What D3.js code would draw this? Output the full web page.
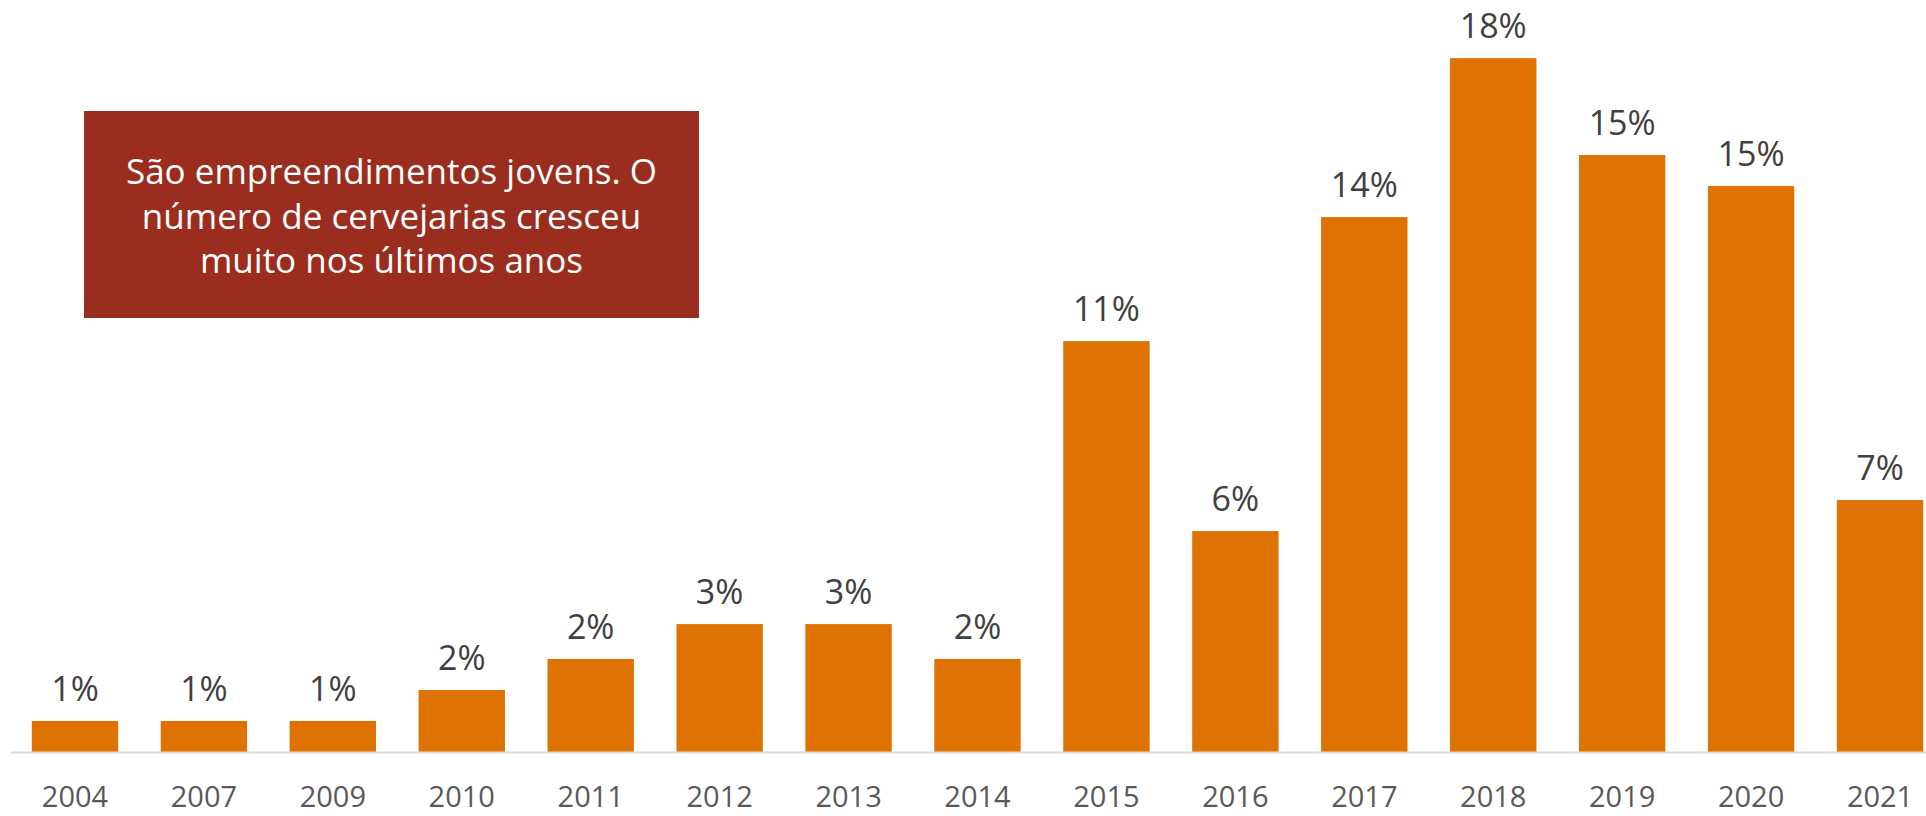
<!DOCTYPE html>
<html lang="pt">
<head>
    <meta charset="UTF-8">
    <title>Cervejarias por ano de abertura</title>
    <style>
        body { margin: 0; background: #fff; }
        .chart text { font-family: "Open Sans", sans-serif; }
        .bar { fill: #de7304; }
        .value { fill: #404040; font-size: 34px; text-anchor: middle; }
        .axis path { stroke: #d9d9d9; stroke-width: 2px; }
        .axis text { fill: #595959; font-size: 29px; }
        .note rect { fill: #9b2d1f; }
        .note text { fill: #fff; font-size: 35px; text-anchor: middle; }
    </style>
</head>
<body>
<svg class="chart"></svg>
<script src="https://d3js.org/d3.v7.min.js"></script>
<script>

// ano de abertura das cervejarias e participação no total (%)
var years = ["2004", "2007", "2009", "2010", "2011", "2012", "2013", "2014",
             "2015", "2016", "2017", "2018", "2019", "2020", "2021"];
var share = [0.8, 0.8, 0.8, 1.6, 2.4, 3.3, 3.3, 2.4,
             10.6, 5.7, 13.8, 17.9, 15.4, 14.6, 6.5];

var noteLines = ["São empreendimentos jovens. O",
                 "número de cervejarias cresceu",
                 "muito nos últimos anos"];

var width = 1926,
    height = 816,
    baseline = 752;

var chart = d3.select(".chart")
    .attr("width", width)
    .attr("height", height);

var x = d3.scaleBand()
    .domain(years)
    .range([10.5, 1944.5])
    .paddingInner(0.33)
    .paddingOuter(0.165);

var y = d3.scaleLinear()
    .domain([0, 19.4])
    .range([baseline, 0]);

var bar = chart.selectAll(".col")
    .data(years)
    .enter().append("g")
    .attr("class", "col");

bar.append("rect")
    .attr("class", "bar")
    .attr("x", function(d) { return x(d); })
    .attr("y", function(d, i) { return y(share[i]); })
    .attr("width", x.bandwidth())
    .attr("height", function(d, i) { return baseline - y(share[i]); });

bar.append("text")
    .attr("class", "value")
    .attr("x", function(d) { return x(d) + x.bandwidth() / 2; })
    .attr("y", function(d, i) { return y(share[i]) - 20; })
    .text(function(d, i) { return Math.round(share[i]) + "%"; });

// eixo x: só a linha de base e os anos
var axis = chart.append("g")
    .attr("class", "axis")
    .attr("transform", "translate(0," + baseline + ")")
    .call(d3.axisBottom(x).tickSize(0).tickSizeOuter(0));

axis.selectAll("text")
    .attr("y", 55)
    .attr("dy", 0);

// caixa de comentário
var note = chart.append("g").attr("class", "note");

note.append("rect")
    .attr("x", 84)
    .attr("y", 111)
    .attr("width", 615)
    .attr("height", 207);

note.selectAll("text")
    .data(noteLines)
    .enter().append("text")
    .attr("x", 391.5)
    .attr("y", function(d, i) { return 184 + i * 44.5; })
    .text(function(d) { return d; });

</script>
</body>
</html>
